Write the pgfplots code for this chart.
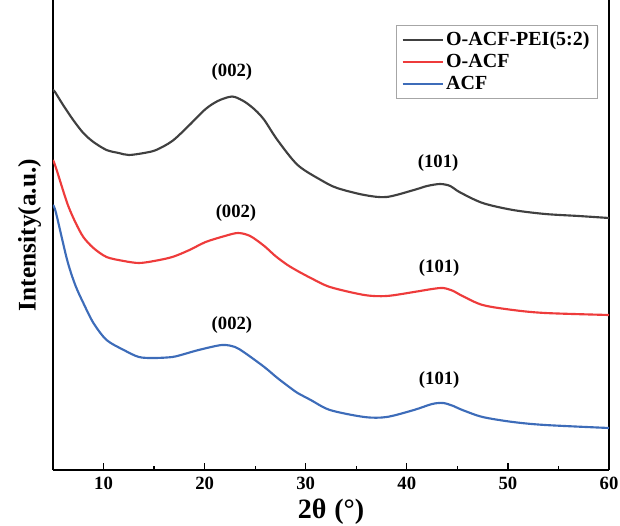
\documentclass[border=0pt]{standalone}
\usepackage{fontspec}
\setmainfont{Liberation Serif}
\usepackage{pgfplots}
\pgfplotsset{compat=1.18}
\usetikzlibrary{calc}

\definecolor{cBlack}{HTML}{404040}
\definecolor{cRed}{HTML}{EE3B3B}
\definecolor{cBlue}{HTML}{3D6CB9}

\begin{document}
\begin{tikzpicture}
\begin{axis}[
    name=main,
    scale only axis,
    width=417pt, height=352.5pt,
    xmin=5, xmax=60, ymin=0, ymax=470,
    axis x line*=bottom, axis y line*=box,
    axis line style={line width=1.1pt},
    xtick={10,20,30,40,50,60},
    minor xtick={15,25,35,45,55},
    tick align=inside,
    major tick length=5pt, minor tick length=3pt,
    tick style={line width=1pt, black},
    ytick=\empty,
    /pgf/number format/assume math mode=true,
    tick label style={font=\fontsize{14}{16}\selectfont\bfseries},
    xticklabel style={yshift=-2pt},
    every axis x label/.style={at={(axis description cs:0.5,-0.088)}, anchor=center,
        font=\fontsize{21}{24}\selectfont},
    every axis y label/.style={at={(axis description cs:-0.042,0.5)}, rotate=90, anchor=center,
        font=\fontsize{19}{22}\selectfont},
    xlabel={\textbf{2θ\;(°)}},
    ylabel={\textbf{Intensity(a.u.)}},
    legend style={at={(0.98,0.947)}, anchor=north east, draw=gray!70,
        line width=0.6pt, font=\fontsize{15}{20}\selectfont\bfseries,
        row sep=1pt, inner xsep=4pt, inner ysep=3pt},
    legend cell align=left,
]
\addlegendimage{legend image code/.code={\draw[cBlack, line width=1.3pt] (0pt,0pt) -- (30pt,0pt);}}
\addlegendentry{O-ACF-PEI(5:2)}
\addlegendimage{legend image code/.code={\draw[cRed, line width=1.3pt] (0pt,0pt) -- (30pt,0pt);}}
\addlegendentry{O-ACF}
\addlegendimage{legend image code/.code={\draw[cBlue, line width=1.3pt] (0pt,0pt) -- (30pt,0pt);}}
\addlegendentry{ACF}

\addplot[cBlack, line width=1.6pt, smooth, forget plot] coordinates {
(5.0,380) (5.2,378) (6.0,365) (7.0,350) (8.0,337) (9.0,328) (10.3,320)
(11.5,317) (12.5,315) (14.0,317) (15.2,320) (16.8,329) (18.4,344) (20.1,361)
(21.3,369) (22.4,373) (23.0,373) (24.0,368) (25.0,360) (25.9,350) (27.2,330)
(29.2,305) (31.5,290) (33.1,282) (35.8,275) (38.0,273) (40.7,280) (42.0,284)
(43.3,286) (44.3,284) (45.2,278) (47.5,267) (50.5,260) (53.7,256) (57.0,254) (60.0,252)
};
\addplot[cRed, line width=1.6pt, smooth, forget plot] coordinates {
(5.0,310) (5.3,302) (6.4,267) (7.2,248) (8.0,233) (9.0,222) (10.3,213)
(12.0,209) (13.5,207) (15.0,209) (16.8,213) (18.5,220) (20.1,228) (22.0,234)
(23.3,237) (24.5,234) (25.9,224) (27.0,214) (28.2,205) (29.2,199) (30.5,192)
(32.4,183) (35.8,175) (38.0,174) (40.7,178) (42.5,181) (43.6,182) (44.6,179)
(45.5,174) (47.5,165) (50.5,160) (53.7,157) (60.0,155)
};
\addplot[cBlue, line width=1.6pt, smooth, forget plot] coordinates {
(5.0,265) (5.3,257) (6.4,210) (7.2,185) (8.0,167) (9.0,147) (10.3,130)
(12.0,120) (13.5,113) (15.0,112) (16.8,113) (18.0,116) (19.4,120) (21.7,125)
(23.0,123) (24.0,117) (25.9,103) (27.2,92) (28.5,82) (29.2,77) (30.5,70)
(32.4,60) (35.8,53) (38.0,53) (40.7,60) (42.5,66) (43.6,67) (44.6,64)
(45.5,60) (47.5,53) (50.5,48) (53.7,45) (60.0,42)
};

\node[font=\fontsize{14}{16}\selectfont\bfseries] at (axis cs:22.7,398) {(002)};
\node[font=\fontsize{14}{16}\selectfont\bfseries] at (axis cs:23.1,257) {(002)};
\node[font=\fontsize{14}{16}\selectfont\bfseries] at (axis cs:22.7,145) {(002)};
\node[font=\fontsize{14}{16}\selectfont\bfseries] at (axis cs:43.1,307) {(101)};
\node[font=\fontsize{14}{16}\selectfont\bfseries] at (axis cs:43.2,202) {(101)};
\node[font=\fontsize{14}{16}\selectfont\bfseries] at (axis cs:43.2,90) {(101)};
\end{axis}
\pgfresetboundingbox
\path[use as bounding box] ($(main.south west)+(-39.75pt,-41.25pt)$) rectangle ($(main.north east)+(8.25pt,0pt)$);
\end{tikzpicture}
\end{document}
